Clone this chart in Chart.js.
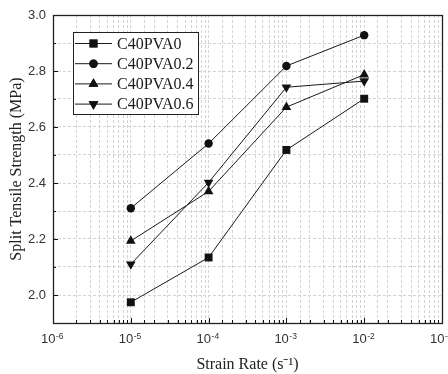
<!DOCTYPE html>
<html>
<head>
<meta charset="utf-8">
<script src="https://cdn.jsdelivr.net/npm/chart.js@4/dist/chart.umd.min.js"></script>
<style>
html,body{margin:0;padding:0;overflow:hidden;background:#fff;width:448px;height:374px;}
canvas{display:block;}
</style>
</head>
<body>
<canvas id="c" width="470" height="374"></canvas>
<script>
// ---- data ----
const strainRates = [1e-5, 1e-4, 1e-3, 1e-2];
const seriesNames = ['C40PVA0', 'C40PVA0.2', 'C40PVA0.4', 'C40PVA0.6'];
const pva0   = [1.974, 2.134, 2.518, 2.701];
const pva02  = [2.310, 2.541, 2.818, 2.928];
const pva04  = [2.193, 2.370, 2.671, 2.787];
const pva06  = [2.110, 2.402, 2.742, 2.764];
const yTickLabels = ['2.0', '2.2', '2.4', '2.6', '2.8', '3.0'];
const xTickBase = '10';
const xTickExponents = {'-6':'-6','-5':'-5','-4':'-4','-3':'-3','-2':'-2','-1':'-1'};

const seriesValues = [pva0, pva02, pva04, pva06];
const markerStyles = [
  {pointStyle:'rect', radius:5.6, rotation:0},
  {pointStyle:'circle', radius:4.2, rotation:0},
  {pointStyle:'triangle', radius:5.6, rotation:0},
  {pointStyle:'triangle', radius:5.6, rotation:180}
];

function isPow10(v){ const l = Math.log10(v); return Math.abs(l - Math.round(l)) < 1e-6; }

const datasets = seriesNames.map((name, i) => ({
  label: name,
  data: strainRates.map((x, j) => ({x: x, y: seriesValues[i][j]})),
  borderColor: '#1a1a1a',
  backgroundColor: '#111',
  borderWidth: 1,
  pointStyle: markerStyles[i].pointStyle,
  pointRadius: markerStyles[i].radius,
  pointRotation: markerStyles[i].rotation,
  pointBorderWidth: 0,
  pointBackgroundColor: '#111',
  tension: 0
}));

const framePlugin = {
  id: 'frameAndLegend',
  afterDraw(chart){
    const {ctx, chartArea:a, scales:{x, y}} = chart;
    ctx.save();
    // inward ticks
    ctx.strokeStyle = '#111';
    ctx.lineWidth = 1;
    ctx.beginPath();
    x.ticks.forEach(t => {
      const px = Math.round(x.getPixelForValue(t.value)) + 0.5;
      const len = isPow10(t.value) ? 5 : 3;
      ctx.moveTo(px, a.bottom); ctx.lineTo(px, a.bottom - len);
    });
    y.ticks.forEach(t => {
      const py = Math.round(y.getPixelForValue(t.value)) + 0.5;
      const k = Math.round(t.value * 10);
      const len = (k % 2 === 0) ? 5 : 3;
      ctx.moveTo(a.left, py); ctx.lineTo(a.left + len, py);
    });
    ctx.stroke();
    // frame
    ctx.lineWidth = 1.3;
    ctx.strokeStyle = '#222';
    ctx.strokeRect(Math.round(a.left)+0.5, Math.round(a.top)+0.5, Math.round(a.right - a.left), Math.round(a.bottom - a.top));

    // x tick labels with superscript exponents
    ctx.fillStyle = '#333';
    ctx.textBaseline = 'alphabetic';
    ctx.textAlign = 'left';
    const baseFont = '13px "Liberation Sans", Arial, sans-serif';
    const expFont = '8.5px "Liberation Sans", Arial, sans-serif';
    x.ticks.forEach(t => {
      if (!isPow10(t.value)) return;
      const e = xTickExponents[String(Math.round(Math.log10(t.value)))];
      if (!e) return;
      const px = x.getPixelForValue(t.value);
      ctx.font = baseFont;
      const wb = ctx.measureText(xTickBase).width;
      ctx.font = expFont;
      const we = ctx.measureText(e).width;
      const sx = px - (wb + we) / 2 - 1;
      ctx.font = baseFont;
      ctx.fillText(xTickBase, sx, 343);
      ctx.font = expFont;
      ctx.fillText(e, sx + wb + 0.5, 338.5);
    });

    // legend box
    const bx = 73.5, by = 32.5, bw = 125, bh = 82;
    ctx.fillStyle = '#fff';
    ctx.fillRect(bx, by, bw, bh);
    ctx.lineWidth = 1;
    ctx.strokeStyle = '#222';
    ctx.strokeRect(bx, by, bw, bh);
    ctx.font = '16px "Liberation Serif", "Times New Roman", serif';
    ctx.textBaseline = 'middle';
    ctx.textAlign = 'left';
    chart.data.datasets.forEach((ds, i) => {
      const cy = 43.5 + i * 20.2;
      ctx.strokeStyle = '#1a1a1a';
      ctx.lineWidth = 1;
      ctx.beginPath();
      ctx.moveTo(75, cy); ctx.lineTo(112, cy);
      ctx.stroke();
      ctx.fillStyle = '#111';
      Chart.helpers.drawPoint(ctx, {pointStyle: ds.pointStyle, radius: ds.pointRadius, rotation: ds.pointRotation, borderWidth: 0}, 93.5, cy);
      ctx.fill();
      ctx.fillStyle = '#1a1a1a';
      ctx.fillText(ds.label, 117, cy + 1);
    });
    ctx.restore();
  }
};

new Chart(document.getElementById('c'), {
  type: 'line',
  data: { datasets: datasets },
  options: {
    responsive: false,
    devicePixelRatio: 1,
    animation: false,
    layout: { padding: { top: 15, right: 28, left: 0, bottom: 0 } },
    plugins: { legend: { display: false }, tooltip: { enabled: false } },
    scales: {
      x: {
        type: 'logarithmic',
        min: 1e-6, max: 1e-1,
        afterFit(s){ s.height = 51; },
        grid: { color: '#d4d4d4', lineWidth: 1, drawTicks: false },
        border: { display: false, dash: [3, 2] },
        ticks: {
          autoSkip: false, maxRotation: 0, padding: 7,
          color: '#333',
          font: { family: '"Liberation Sans", Arial, sans-serif', size: 13 },
          callback(){ return ''; }
        },
        title: {
          display: true, text: 'Strain Rate (s⁻¹)', color: '#222',
          font: { family: '"Liberation Serif", "Times New Roman", serif', size: 16 },
          padding: { top: 0, bottom: 0 }
        }
      },
      y: {
        type: 'linear',
        min: 1.9, max: 3.0,
        afterFit(s){ s.width = 53; },
        grid: { color: '#d4d4d4', lineWidth: 1, drawTicks: false },
        border: { display: false, dash: [3, 2] },
        ticks: {
          stepSize: 0.1, autoSkip: false, padding: 7,
          color: '#333',
          font: { family: '"Liberation Sans", Arial, sans-serif', size: 13 },
          callback(v){ const k = Math.round(v * 10); if (k % 2 !== 0 || k < 20) return ''; return yTickLabels[(k - 20) / 2] || ''; }
        },
        title: {
          display: true, text: 'Split Tensile Strength (MPa)', color: '#222',
          font: { family: '"Liberation Serif", "Times New Roman", serif', size: 16 },
          padding: { top: 7, bottom: 0 }
        }
      }
    }
  },
  plugins: [framePlugin]
});
</script>
</body>
</html>
